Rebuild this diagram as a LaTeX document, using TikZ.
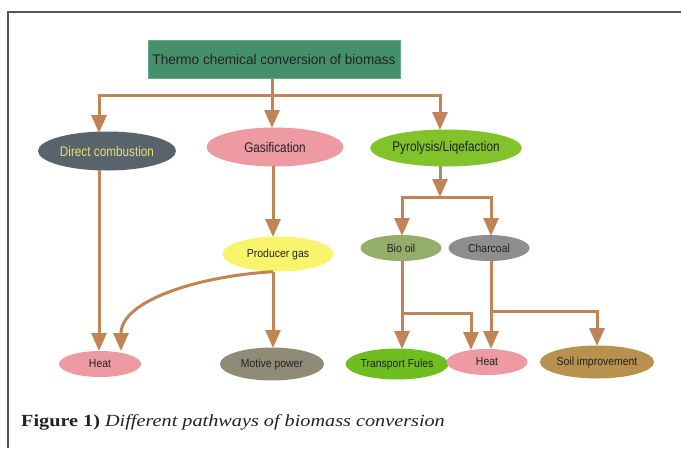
\documentclass[tikz,border=0pt]{standalone}
\usepackage{fontspec}
\setmainfont{Liberation Serif}
\setsansfont{Liberation Sans}
\usetikzlibrary{shapes.geometric,arrows.meta}
\definecolor{arrc}{HTML}{C08457}
\definecolor{topc}{HTML}{44906A}
\definecolor{dcc}{HTML}{59636B}
\definecolor{dctext}{HTML}{E5E27A}
\definecolor{pinkc}{HTML}{EE9AA2}
\definecolor{pyrc}{HTML}{82C22A}
\definecolor{pgc}{HTML}{F8F46C}
\definecolor{mpc}{HTML}{8F8B76}
\definecolor{bioc}{HTML}{94AE6A}
\definecolor{charc}{HTML}{8E8E8E}
\definecolor{tfc}{HTML}{6DBE1E}
\definecolor{soilc}{HTML}{B8914F}
\definecolor{txtc}{HTML}{222222}
\definecolor{framec}{HTML}{555555}
\newcommand{\bx}[1]{\scalebox{0.84}[1]{#1}}
\newcommand{\sx}[1]{\scalebox{0.9}[1]{#1}}
\begin{document}
\begin{tikzpicture}[x=1pt,y=-1pt,
  ell/.style={ellipse, draw=none, inner sep=0pt, text=txtc},
  bigell/.style={ell, font=\fontsize{14}{16}\sffamily},
  smallell/.style={ell, font=\fontsize{11.6}{13}\sffamily},
  conn/.style={draw=arrc, line width=3pt},
  arr/.style={conn, -{Triangle[length=18pt,width=15pt]}},
]
\useasboundingbox (0,0) rectangle (681,448);
\draw[framec, line width=2pt] (8,448) -- (8,12) -- (681,12);

\node[fill=topc, draw=topc!80!white, minimum width=252pt, minimum height=38pt, inner sep=0pt,
      text=txtc, font=\fontsize{14}{16}\sffamily] (top) at (274,59) {\scalebox{0.97}[1]{Thermo chemical conversion of biomass}};

\node[bigell, fill=dcc, text=dctext, minimum width=138pt, minimum height=39pt] (dc) at (107,151) {\bx{Direct combustion}};
\node[bigell, fill=pinkc, minimum width=137pt, minimum height=39pt] (gas) at (275,147) {\bx{Gasification}};
\node[bigell, fill=pyrc, minimum width=136pt, minimum height=37pt] (pyr) at (446,148) {\bx{Pyrolysis/Liqefaction}};

\node[smallell, fill=pgc, minimum width=111pt, minimum height=35pt] (pg) at (278,254) {\sx{Producer gas}};
\node[smallell, fill=bioc, minimum width=81pt, minimum height=26pt] (bio) at (401,248) {\sx{Bio oil}};
\node[smallell, fill=charc, minimum width=81pt, minimum height=26pt] (char) at (489,248) {\sx{Charcoal}};

\node[smallell, fill=pinkc, minimum width=82pt, minimum height=26pt] (heatL) at (100,364) {\sx{Heat}};
\node[smallell, fill=mpc, minimum width=104pt, minimum height=33pt] (mp) at (272,364) {\sx{Motive power}};
\node[smallell, fill=tfc, minimum width=95pt, minimum height=31pt] (tf) at (397,364) {\sx{Transport Fules}};
\node[smallell, fill=pinkc, minimum width=81pt, minimum height=26pt] (heatR) at (487,362) {\sx{Heat}};
\node[smallell, fill=soilc, minimum width=107pt, minimum height=33pt] (soil) at (597,362) {\sx{Soil improvement}};

% top bus
\coordinate (b0) at (272,95);
\draw[conn] (top.south -| b0) -- (b0);
\draw[arr] (b0) -| (99,133);
\draw[arr] (b0) -- (272,128);
\draw[arr] (b0) -| (440,130);

% left branch
\draw[arr] (99,170) -- (99,351);
\draw[arr] (273,166) -- (273,237);
\draw[arr] (pg.south -| 273,0) -- (273,348);
\draw[arr] (pg.south -| 273,0) .. controls (200,276) and (121,300) .. (121,351);

% pyrolysis branch
\coordinate (p1) at (440,197);
\draw[arr] (440,166) -- (p1);
\draw[arr] (p1) -| (402,236);
\draw[arr] (p1) -| (491,236);

\coordinate (j1) at (402,313);
\draw[arr] (402,261) -- (j1) -- (402,349);
\draw[arr] (j1) -| (471,350);
\coordinate (j2) at (491,311);
\draw[arr] (491,261) -- (j2) -- (491,349);
\draw[arr] (j2) -| (597,346);

\node[anchor=base west, inner sep=0pt, font=\fontsize{17}{20}\selectfont, text=txtc] (cap) at (21,426)
  {\scalebox{1.19}[1]{\textbf{Figure 1)} \textit{Different pathways of biomass conversion}}};
\end{tikzpicture}
\end{document}
